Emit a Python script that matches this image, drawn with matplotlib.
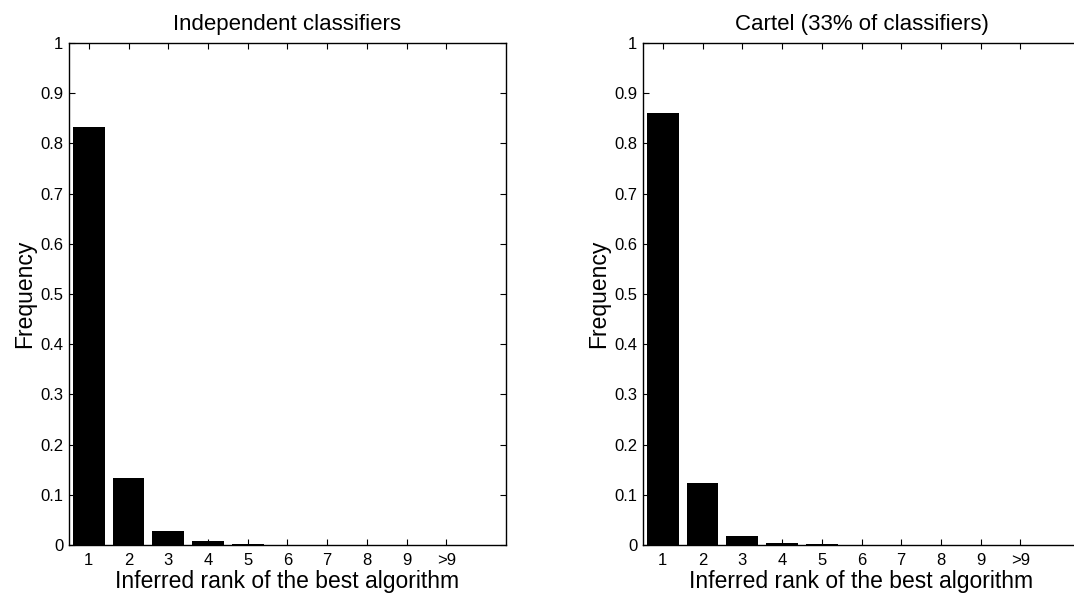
import matplotlib.pyplot as plt

plt.rcParams['font.family'] = ['Liberation Sans', 'DejaVu Sans']

# rank categories shown on the x axis
ranks = list(range(1, 11))
rank_labels = ['1', '2', '3', '4', '5', '6', '7', '8', '9', '>9']

# frequencies
independent = [0.833, 0.134, 0.028, 0.008, 0.003, 0.001, 0.0008, 0.0006, 0.0005, 0.0005]
cartel = [0.861, 0.123, 0.018, 0.004, 0.0012, 0.0008, 0.0006, 0.0005, 0.0005, 0.0005]

titles = ['Independent classifiers', 'Cartel (33% of classifiers)']
yticks = [i / 10 for i in range(11)]
ytick_labels = ['0'] + ['%.1f' % v for v in yticks[1:-1]] + ['1']

fig = plt.figure(figsize=(10.74, 5.98), dpi=100)
ax1 = fig.add_axes([0.0642, 0.0886, 0.4069, 0.8395])
ax2 = fig.add_axes([0.5987, 0.0886, 0.4069, 0.8395])

for ax, vals, title in zip([ax1, ax2], [independent, cartel], titles):
    ax.bar(ranks, vals, width=0.8, color='black')
    ax.set_xlim(0.5, 11.5)
    ax.set_ylim(0, 1)
    ax.set_xticks(ranks)
    ax.set_xticklabels(rank_labels, fontsize=12)
    ax.set_yticks(yticks)
    ax.set_yticklabels(ytick_labels, fontsize=12)
    ax.tick_params(direction='in', top=True, right=True, length=4, width=0.8)
    ax.tick_params(axis='x', pad=6)
    ax.tick_params(axis='y', pad=4)
    for s in ax.spines.values():
        s.set_linewidth(1.0)
    ax.set_title(title, fontsize=16, pad=9)
    ax.set_xlabel('Inferred rank of the best algorithm', fontsize=16.5, labelpad=1)
    ax.set_ylabel('Frequency', fontsize=16.5, labelpad=3)

fig.savefig('out.png', dpi=100)
